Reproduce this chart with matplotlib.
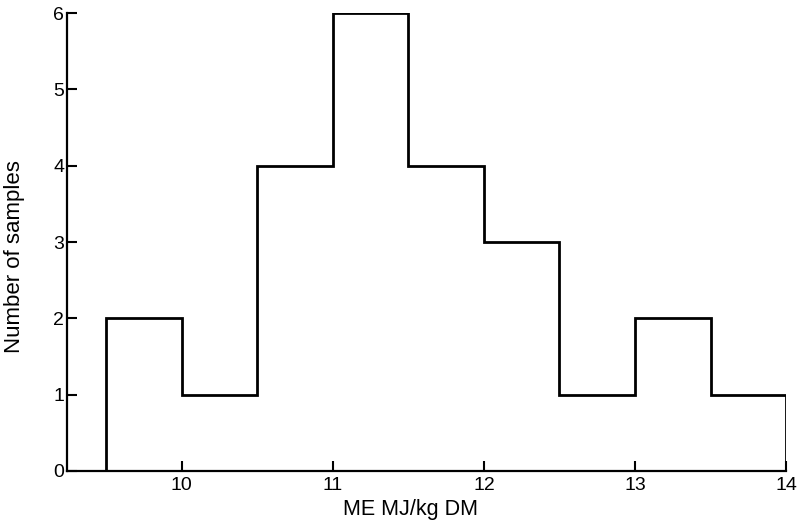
import matplotlib
matplotlib.use("Agg")
import matplotlib.pyplot as plt
import numpy as np

bin_edges = [9.5, 10.0, 10.5, 11.0, 11.5, 12.0, 12.5, 13.0, 13.5, 14.0]
counts = [2, 1, 4, 6, 4, 3, 1, 2, 1]
x_ticks = [10, 11, 12, 13, 14]
y_ticks = [0, 1, 2, 3, 4, 5, 6]

plt.rcParams['font.family'] = ['Liberation Sans', 'DejaVu Sans']

fig = plt.figure(figsize=(7.99, 5.21), dpi=100)
ax = fig.add_axes([0.0839, 0.096, 0.9001, 0.879])

ax.stairs(counts, bin_edges, fill=False, color='black', linewidth=2.0,
          baseline=0)

ax.set_xlim(9.242, 14.0)
ax.set_ylim(0, 6)
ax.set_xticks(x_ticks)
ax.set_yticks(y_ticks)
ax.tick_params(direction='in', length=7, width=1.5, labelsize=14)
ax.tick_params(axis='y', pad=2)
ax.tick_params(axis='x', pad=4)

for s in ['top', 'right']:
    ax.spines[s].set_visible(False)
for s in ['left', 'bottom']:
    ax.spines[s].set_linewidth(1.6)

ax.set_xlabel('ME MJ/kg DM', fontsize=15.5)
ax.set_ylabel('Number of samples', fontsize=16)
ax.xaxis.set_label_coords(0.477, -0.062)
ax.yaxis.set_label_coords(-0.058, 0.469)

fig.savefig('out.png', dpi=100)
